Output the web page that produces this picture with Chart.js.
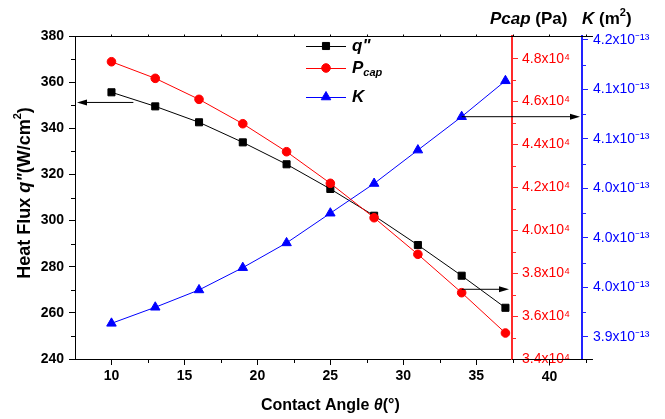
<!DOCTYPE html>
<html>
<head>
<meta charset="utf-8">
<script src="https://cdn.jsdelivr.net/npm/chart.js@4/dist/chart.umd.min.js"></script>
<style>
html, body { margin: 0; padding: 0; background: #fff; }
#wrap { width: 665px; height: 419px; }
</style>
</head>
<body>
<div id="wrap"><canvas id="chart" width="665" height="419"></canvas></div>
<script>
// Contact angle (deg) and the three series
const angles = [10, 13, 16, 19, 22, 25, 28, 31, 34, 37];
const heatFlux = [355.6, 349.5, 342.6, 333.9, 324.4, 313.7, 302.1, 289.4, 276.1, 262.2];
const pcap = [47860, 47086, 46107, 44970, 43664, 42191, 40587, 38881, 37091, 35212];
const perm = [3.931, 3.944, 3.958, 3.976, 3.996, 4.020, 4.044, 4.071, 4.098, 4.127]; // x1e-13 m2

// Tick values
const xTicks = [10, 15, 20, 25, 30, 35];
const qTicks = [240, 260, 280, 300, 320, 340, 360, 380];
const pTicks = [34000, 36000, 38000, 40000, 42000, 44000, 46000, 48000];
const kTicks = [3.92, 3.96, 4.00, 4.04, 4.08, 4.12, 4.16];

const FONT = "Arial, 'Liberation Sans', sans-serif";
const RED = "#ff2a2a";
const BLUE = "#2222ff";

Chart.defaults.font.family = FONT;

function points(ys) {
    return angles.map((a, i) => ({ x: a, y: ys[i] }));
}

function fixTicks(values) {
    return (scale) => {
        scale.ticks = values.map((v) => ({ value: v }));
    };
}

function runFont(r, size) {
    const s = r.sup || r.sub ? Math.round(size * 0.62) : size;
    return `${r.italic ? "italic " : ""}bold ${s}px ${FONT}`;
}

// Draw text made of runs (italic / superscript / subscript parts)
function drawRuns(ctx, runs, x, y, size, color, align) {
    ctx.save();
    ctx.fillStyle = color;
    ctx.textBaseline = "middle";
    ctx.textAlign = "left";
    let total = 0;
    runs.forEach((r) => {
        ctx.font = runFont(r, size);
        total += ctx.measureText(r.t).width;
    });
    let cx = align === "center" ? x - total / 2 : x;
    runs.forEach((r) => {
        ctx.font = runFont(r, size);
        const dy = r.sup ? -size * 0.38 : r.sub ? size * 0.32 : 0;
        ctx.fillText(r.t, cx, y + dy);
        cx += ctx.measureText(r.t).width;
    });
    ctx.restore();
}

function arrow(ctx, x1, y, x2) {
    const dir = Math.sign(x2 - x1);
    ctx.beginPath();
    ctx.moveTo(x1, y);
    ctx.lineTo(x2 - dir * 8, y);
    ctx.stroke();
    ctx.beginPath();
    ctx.moveTo(x2, y);
    ctx.lineTo(x2 - dir * 10, y - 3);
    ctx.lineTo(x2 - dir * 10, y + 3);
    ctx.closePath();
    ctx.fill();
}

const decor = {
    id: "decor",
    afterDatasetsDraw(chart) {
        const { ctx, chartArea, scales } = chart;
        const x = scales.x;
        ctx.save();
        ctx.strokeStyle = "#000";
        ctx.fillStyle = "#000";
        ctx.lineWidth = 1;
        arrow(ctx, x.getPixelForValue(11.5), scales.y.getPixelForValue(351.2), chartArea.left + 2);
        arrow(ctx, x.getPixelForValue(angles[8]), scales.yP.getPixelForValue(37250), scales.yP.left - 3);
        arrow(ctx, x.getPixelForValue(angles[8]), scales.yK.getPixelForValue(perm[8]), scales.yK.left - 2);
        ctx.restore();
    },
    afterDraw(chart) {
        const { ctx, chartArea, scales } = chart;
        const x = scales.x;
        const xEnd = x.getPixelForValue(43);
        ctx.save();
        ctx.lineWidth = 1;

        // minor ticks
        const minor = (scale, ticks, len, color, side) => {
            ctx.strokeStyle = color;
            ctx.beginPath();
            for (let i = 0; i < ticks.length - 1; i++) {
                const p = Math.round(scale.getPixelForValue((ticks[i] + ticks[i + 1]) / 2)) + 0.5;
                if (side === "left") { ctx.moveTo(chartArea.left, p); ctx.lineTo(chartArea.left - len, p); }
                else if (side === "bottom") { ctx.moveTo(p, chartArea.bottom); ctx.lineTo(p, chartArea.bottom + len); }
                else { ctx.moveTo(scale.left, p); ctx.lineTo(scale.left + len, p); }
            }
            ctx.stroke();
        };
        minor(scales.y, qTicks, 4, "#000", "left");
        minor(x, xTicks.concat([40, 45]), 4, "#000", "bottom");
        minor(scales.yP, pTicks, 4, RED, "right");
        minor(scales.yK, kTicks, 4, BLUE, "right");

        // x axis continues past the red axis, plus top frame line
        ctx.strokeStyle = "#000";
        ctx.beginPath();
        const yb = Math.round(chartArea.bottom) + 0.5;
        const yt = Math.round(chartArea.top) + 0.5;
        ctx.moveTo(chartArea.right, yb);
        ctx.lineTo(xEnd, yb);
        const p40 = Math.round(x.getPixelForValue(40)) + 0.5;
        ctx.moveTo(p40, yb);
        ctx.lineTo(p40, yb + 6);
        ctx.moveTo(chartArea.left, yt);
        ctx.lineTo(xEnd, yt);
        for (let v = 10; v < 43; v += 2.5) {
            const p = Math.round(x.getPixelForValue(v)) + 0.5;
            ctx.moveTo(p, yt);
            ctx.lineTo(p, yt - 2);
        }
        ctx.stroke();
        ctx.fillStyle = "#000";
        ctx.font = `bold 14px ${FONT}`;
        ctx.textAlign = "center";
        ctx.textBaseline = "middle";
        ctx.fillText("40", p40, chartArea.bottom + 18);

        // legend
        const rows = [46, 68, 97];
        const names = [
            [{ t: 'q"', italic: true }],
            [{ t: "P", italic: true }, { t: "cap", italic: true, sub: true }],
            [{ t: "K", italic: true }],
        ];
        chart.data.datasets.forEach((ds, i) => {
            const ly = rows[i];
            ctx.strokeStyle = ds.borderColor;
            ctx.fillStyle = ds.backgroundColor;
            ctx.lineWidth = 1;
            ctx.beginPath();
            ctx.moveTo(306, ly + 0.5);
            ctx.lineTo(346, ly + 0.5);
            ctx.stroke();
            Chart.helpers.drawPoint(ctx, { pointStyle: ds.pointStyle, radius: ds.pointRadius, rotation: 0, borderWidth: 1 }, 326, ly);
            drawRuns(ctx, names[i], 352, ly, 17, "#000", "left");
        });

        // axis titles
        drawRuns(ctx, [{ t: "Contact Angle " }, { t: "\u03b8", italic: true }, { t: "(\u00b0)" }],
            x.getPixelForValue(25), 406, 16, "#000", "center");
        drawRuns(ctx, [{ t: "Pcap", italic: true }, { t: " (Pa)" }], 490, 19, 17, "#000", "left");
        drawRuns(ctx, [{ t: "K", italic: true }, { t: " (m" }, { t: "2", sup: true }, { t: ")" }], 582, 19, 17, "#000", "left");
        ctx.translate(25, 193);
        ctx.rotate(-Math.PI / 2);
        drawRuns(ctx, [{ t: "Heat Flux " }, { t: 'q"', italic: true }, { t: "(W/cm" }, { t: "2", sup: true }, { t: ")" }],
            0, 0, 18, "#000", "center");
        ctx.restore();
    },
};

function axis(extra) {
    return Object.assign({
        type: "linear",
        grid: { drawOnChartArea: false, tickLength: 6, tickColor: "#000", tickWidth: 1 },
        border: { color: "#000", width: 1 },
        ticks: { color: "#000", font: { size: 14, weight: "bold" }, padding: 5 },
    }, extra);
}

new Chart(document.getElementById("chart"), {
    type: "line",
    data: {
        datasets: [
            {
                label: 'q"',
                data: points(heatFlux),
                yAxisID: "y",
                borderColor: "#000",
                backgroundColor: "#000",
                borderWidth: 1,
                pointStyle: "rect",
                pointRadius: 5,
                pointBorderWidth: 1,
                order: 3,
            },
            {
                label: "Pcap",
                data: points(pcap),
                yAxisID: "yP",
                borderColor: "#ff0000",
                backgroundColor: "#ff0000",
                borderWidth: 1,
                pointStyle: "circle",
                pointRadius: 4.3,
                pointBorderWidth: 1,
                order: 1,
            },
            {
                label: "K",
                data: points(perm),
                yAxisID: "yK",
                borderColor: "#0000ff",
                backgroundColor: "#0000ff",
                borderWidth: 1,
                pointStyle: "triangle",
                pointRadius: 5.5,
                pointBorderWidth: 1,
                order: 2,
            },
        ],
    },
    options: {
        responsive: false,
        animation: false,
        devicePixelRatio: 1,
        layout: { padding: { top: 36, left: 0, right: 0, bottom: 0 } },
        plugins: { legend: { display: false }, tooltip: { enabled: false } },
        scales: {
            x: axis({
                position: "bottom",
                min: 7.5,
                max: 37.45,
                afterBuildTicks: fixTicks(xTicks),
                afterFit: (s) => { s.height = 60; },
                ticks: { color: "#000", font: { size: 14, weight: "bold" }, padding: 3, maxRotation: 0 },
            }),
            y: axis({
                position: "left",
                min: 240,
                max: 380,
                afterBuildTicks: fixTicks(qTicks),
                afterFit: (s) => { s.width = 75; },
            }),
            yP: axis({
                position: "right",
                weight: 0,
                min: 34000,
                max: 49060,
                afterBuildTicks: fixTicks(pTicks),
                afterFit: (s) => { s.width = 70; },
                grid: { drawOnChartArea: false, tickLength: 6, tickColor: RED, tickWidth: 1 },
                border: { color: RED, width: 2 },
                ticks: {
                    color: "#ff0000",
                    font: { size: 14 },
                    padding: 4,
                    callback: (v) => (v / 1e4).toFixed(1) + "x10\u2074",
                },
            }),
            yK: axis({
                position: "right",
                weight: 1,
                min: 3.9022,
                max: 4.1632,
                afterBuildTicks: fixTicks(kTicks),
                afterFit: (s) => { s.width = 83; },
                grid: { drawOnChartArea: false, tickLength: 6, tickColor: BLUE, tickWidth: 1 },
                border: { color: BLUE, width: 2 },
                ticks: {
                    color: "#0000ff",
                    font: { size: 14 },
                    padding: 5,
                    callback: (v) => v.toFixed(1) + "x10\u207b\u00b9\u00b3",
                },
            }),
        },
    },
    plugins: [decor],
});
</script>
</body>
</html>
